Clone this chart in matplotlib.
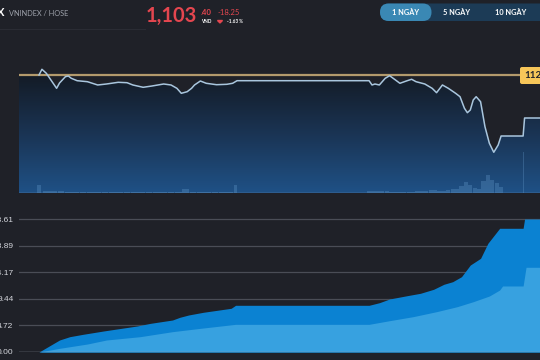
import matplotlib
matplotlib.use('Agg')
import matplotlib.pyplot as plt
import numpy as np
from matplotlib.patches import FancyBboxPatch, Polygon, Rectangle
from matplotlib.colors import LinearSegmentedColormap

# ---------------- data ----------------
symbol = "VNINDEX / HOSE"
last_int = "1,103"
last_dec = ".40"
change_txt = "-18.25"
change_pct_txt = "-1.63 %"
ref_price = 1121.65
ref_label = "1121.65"
buttons = ["1 NGÀY", "5 NGÀY", "10 NGÀY"]

price_times = ["9:15", "9:17", "9:20", "9:27", "9:29", "9:33", "9:35", "9:37", "9:41", "9:48",
               "9:55", "10:01", "10:09", "10:15", "10:19", "10:26", "10:32", "10:40", "10:45", "10:49",
               "10:52", "10:56", "10:59", "11:01", "11:05", "11:09", "11:16", "11:23", "11:27", "11:30",
               "13:00", "13:02", "13:04", "13:07", "13:11", "13:14", "13:18", "13:21", "13:26", "13:29",
               "13:32", "13:38", "13:43", "13:46", "13:50", "13:54", "13:59", "14:02", "14:05", "14:07",
               "14:09", "14:11", "14:13", "14:16", "14:19", "14:22", "14:25", "14:28", "14:30", "14:45",
               "14:46", "15:00"]
price_values = [1121.65, 1124.07, 1122.37, 1116.00, 1118.26, 1120.93, 1121.23, 1120.25, 1119.23, 1118.81,
                1117.41, 1117.83, 1118.55, 1118.38, 1117.41, 1116.43, 1116.98, 1117.83, 1117.41, 1116.00,
                1113.88, 1114.56, 1116.00, 1117.41, 1119.10, 1118.13, 1117.53, 1117.70, 1118.13, 1119.23,
                1119.23, 1117.41, 1117.83, 1117.41, 1120.25, 1121.35, 1119.53, 1118.13, 1119.23, 1119.83,
                1118.81, 1117.83, 1116.00, 1114.14, 1117.41, 1116.00, 1113.88, 1112.44, 1107.52, 1105.65,
                1106.80, 1111.04, 1112.44, 1110.32, 1099.71, 1092.66, 1088.85, 1091.94, 1095.76, 1095.76,
                1103.40, 1103.40]

vol_times = ["9:15", "9:20", "9:25", "9:30", "9:35", "9:40", "9:45", "9:50", "9:55", "10:00",
             "10:05", "10:10", "10:15", "10:20", "10:25", "10:30", "10:35", "10:40", "10:45", "10:50",
             "10:55", "11:00", "11:05", "11:10", "11:15", "11:20", "11:25", "11:29",
             "13:00", "13:03", "13:06", "13:09", "13:12", "13:15", "13:18", "13:21", "13:24", "13:27",
             "13:30", "13:33", "13:36", "13:39", "13:42", "13:45", "13:48", "13:51", "13:54", "13:57",
             "14:00", "14:03", "14:06", "14:09", "14:12", "14:15", "14:18", "14:21", "14:24", "14:27",
             "14:30", "14:45"]
vol_values = [8, 2.5, 2, 2, 1.5, 1.5, 1.5, 1.5, 1.5, 1.5,
              1.5, 1.5, 1.5, 1.5, 1.5, 1.5, 1.5, 1.5, 1.5, 1.5,
              4, 1.5, 1.5, 1.5, 1.5, 1.5, 1.5, 8,
              2, 2, 2, 2, 2, 1.5, 1.5, 1.5, 1.5, 1.5,
              1.5, 2, 2, 2.5, 3, 3, 2.5, 2.5, 3, 4,
              4, 7, 11, 8, 5, 4, 12, 18, 13, 10,
              6, 41]

total_times = ["9:15", "9:29", "9:36", "9:45", "9:59", "10:08", "10:22", "10:31", "10:46", "10:51",
               "10:57", "11:07", "11:18", "11:26", "11:29", "13:00", "13:07", "13:14", "13:26", "13:35",
               "13:44", "13:51", "13:57", "14:03", "14:09", "14:16", "14:21", "14:29", "14:45", "14:46",
               "15:00"]
total_values = [0.00, 2.13, 2.72, 3.14, 3.73, 4.08, 4.62, 5.09, 5.68, 6.16,
                6.57, 7.05, 7.46, 7.76, 8.29, 8.29, 8.75, 9.41, 10.00, 10.42,
                11.13, 12.02, 12.48, 13.37, 15.44, 16.63, 19.30, 21.96, 21.96, 23.61,
                23.61]
part_times = ["9:15", "9:29", "9:48", "10:01", "10:24", "10:46", "11:05", "11:29", "13:00", "13:14",
              "13:30", "13:46", "14:00", "14:11", "14:22", "14:29", "14:31", "14:45", "14:47", "15:00"]
part_values = [0.00, 0.65, 1.42, 2.13, 2.72, 3.61, 4.20, 4.91, 4.91, 5.56,
               6.27, 7.16, 8.04, 8.93, 9.94, 11.00, 11.72, 11.72, 15.04, 15.04]

y_ticks = [0.00, 4.72, 9.44, 14.17, 18.89, 23.61]
y_tick_labels = ["0.00", "4.72", "9.44", "14.17", "18.89", "23.61"]

# ---------------- helpers ----------------
def mins(s):
    h, m = s.split(":")
    return int(h) * 60 + int(m) - 540

BG = "#1f2128"
W, H = 540, 360
fig = plt.figure(figsize=(W / 100, H / 100), dpi=100, facecolor=BG)

def box(l, t, r, b):
    return [l / W, 1 - b / H, (r - l) / W, (b - t) / H]

PX_PER_MIN = 1.467
x_left = 15 + (19 - 39) / PX_PER_MIN
x_right = 15 + (540 - 39) / PX_PER_MIN

# ---------------- top panel ----------------
ax = fig.add_axes(box(19, 62, 540, 193))
ax.set_facecolor(BG)
ax.axis("off")
pp_px = 0.4244
y_low = ref_price - (193 - 75) * pp_px
y_high = ref_price + (75 - 62) * pp_px
ax.set_xlim(x_left, x_right)
ax.set_ylim(y_low, y_high)

pt = [mins(s) for s in price_times]
poly_x = [x_left] + pt + [pt[-1], x_left]
poly_y = [ref_price] + price_values + [y_low, y_low]
poly = Polygon(np.column_stack([poly_x, poly_y]), closed=True, facecolor="none", edgecolor="none")
ax.add_patch(poly)
cmap = LinearSegmentedColormap.from_list("g", ["#131922", "#1a3352", "#1f5186"])
grad = np.linspace(1, 0, 256).reshape(-1, 1)
im = ax.imshow(grad, extent=(x_left, x_right, y_low, ref_price + 2), origin="lower",
               aspect="auto", cmap=cmap, vmin=0, vmax=1, zorder=1)
im.set_clip_path(poly)

axv = ax.twinx()
axv.axis("off")
axv.set_ylim(0, 131)
vt = [mins(s) for s in vol_times]
widths = [2.5] + [4.5] * 26 + [2.5] + [2.8] * 31 + [0.6]
axv.bar(vt, vol_values, width=widths, color="#6a9fd0", alpha=0.3, lw=0, zorder=2)
axv.set_xlim(x_left, x_right)

ax.axhline(ref_price, color="#b39a6c", lw=1.6, zorder=3)
ax.plot(pt, price_values, color="#a9c6de", lw=1.1, zorder=4, solid_joinstyle="round")
ax.axhline(y_low + 0.3, color="#2d5c8e", lw=0.8, zorder=3)

# ---------------- bottom panel ----------------
ax2 = fig.add_axes(box(19, 212, 540, 352))
ax2.set_facecolor(BG)
for sp in ax2.spines.values():
    sp.set_visible(False)
ax2.set_xlim(x_left, x_right)
ax2.set_ylim(0, 23.61 * 140 / 133)
ax2.set_yticks(y_ticks)
ax2.set_yticklabels(y_tick_labels, fontfamily="Liberation Sans")
ax2.set_xticks([])
ax2.tick_params(axis="y", length=0, pad=4.0, labelsize=6.0, labelcolor="#d4d6dc")
for yv in y_ticks[1:]:
    ax2.axhline(yv, color="#4a4d56", lw=0.9, zorder=1)
tt = [mins(s) for s in total_times]
ptt = [mins(s) for s in part_times]
ax2.fill_between(tt, total_values, 0, color="#0b82d2", lw=0, zorder=2)
ax2.fill_between(ptt, part_values, 0, color="#37a1e0", lw=0, zorder=3)
ax2.axhline(0, color="#8f96a0", lw=1.0, zorder=4)

# ---------------- overlay (header, labels) ----------------
ov = fig.add_axes([0, 0, 1, 1], zorder=10)
ov.set_xlim(0, W)
ov.set_ylim(H, 0)
ov.axis("off")
ov.patch.set_alpha(0)

ov.plot([0, 145], [28.5, 28.5], color="#2a2c34", lw=0.8)
ov.text(-3, 13, "X", color="white", fontsize=8, fontweight="bold", va="center", ha="left",
        fontfamily="Lato")
ov.text(9, 13.5, symbol, color="#9ea2ab", fontsize=5.3, va="center", ha="left", fontfamily="Lato")
RED = "#e4464f"
ov.text(146, 16, last_int, color=RED, fontsize=14.5, fontweight="bold", va="center", ha="left",
        fontfamily="Lato")
ov.text(200.5, 12.5, last_dec, color=RED, fontsize=5.6, va="center", ha="left", fontfamily="Lato",
        fontweight="bold")
ov.text(201.5, 21.5, "VND", color="white", fontsize=3.3, va="center", ha="left", fontfamily="Lato",
        fontweight="bold")
ov.text(218, 12.5, change_txt, color=RED, fontsize=5.5, va="center", ha="left", fontfamily="Lato")
ov.add_patch(Polygon([[217.5, 20.5], [222.5, 20.5], [220, 23]], closed=True, color=RED))
ov.text(227, 21.5, change_pct_txt, color="white", fontsize=3.3, va="center", ha="left",
        fontfamily="Lato", fontweight="bold")

ov.add_patch(FancyBboxPatch((380, 3.5), 175, 17.5, boxstyle="round,pad=0,rounding_size=8.7",
                            facecolor="#1c3b56", edgecolor="none"))
ov.add_patch(FancyBboxPatch((380, 3.5), 51.5, 17.5, boxstyle="round,pad=0,rounding_size=8.7",
                            facecolor="#3a88b4", edgecolor="none"))
for bx, lab in zip([405.5, 456.7, 510.5], buttons):
    ov.text(bx, 12.5, lab, color="white", fontsize=5.3, fontweight="bold", va="center",
            ha="center", fontfamily="Lato")

ov.add_patch(FancyBboxPatch((520, 67), 40, 17, boxstyle="round,pad=0,rounding_size=2",
                            facecolor="#f6c659", edgecolor="none"))
ov.text(524, 75.8, ref_label, color="#22242a", fontsize=7, va="center", ha="left",
        fontfamily="Lato", fontweight="bold")

fig.savefig("out.png", dpi=100, facecolor=BG)
